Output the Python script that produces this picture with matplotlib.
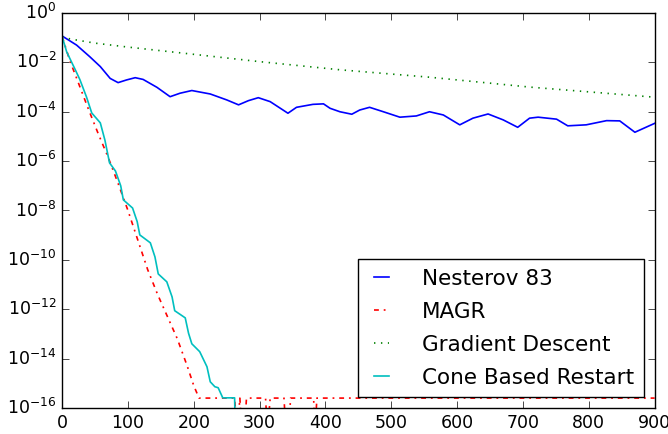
import numpy as np
import matplotlib
matplotlib.use("Agg")
from matplotlib import pyplot as plt

plt.style.use("classic")

# values are stored as -log10(error)
nest_x = [0, 22, 42, 58, 73, 85, 98, 111, 123, 144, 164, 179, 197, 225, 250, 268, 283,
          298, 316, 343, 356, 381, 397, 407, 422, 440, 452, 467, 488, 513, 538, 558, 579,
          604, 624, 647, 670, 692, 710, 723, 751, 768, 796, 827, 847, 870, 900]
nest_d = [0.93, 1.30, 1.77, 2.17, 2.65, 2.82, 2.71, 2.62, 2.69, 3.01, 3.39, 3.25, 3.14,
          3.28, 3.52, 3.72, 3.55, 3.43, 3.59, 4.06, 3.82, 3.70, 3.68, 3.86, 4.0, 4.10,
          3.93, 3.82, 4.0, 4.22, 4.17, 4.0, 4.13, 4.53, 4.26, 4.09, 4.33, 4.63, 4.26, 4.22,
          4.30, 4.57, 4.53, 4.36, 4.37, 4.83, 4.47]

magr_x = [0, 12, 25, 40, 55, 70, 85, 100, 115, 130, 145, 160, 175, 190, 200, 208, 262,
          266, 270, 273, 277, 280, 309, 312, 316, 337, 340, 344, 347, 382, 384, 387, 900]
magr_d = [0.95, 1.95, 2.85, 3.9, 4.9, 5.85, 6.9, 8.0, 9.2, 10.4, 11.4, 12.3, 13.2, 14.3,
          15.1, 15.6, 15.6, 17, 15.6, 17, 17, 15.6, 15.6, 17, 15.6, 15.6, 17, 17, 15.6,
          15.6, 17, 15.6, 15.6]

gd_x = [0, 12, 50, 100, 209, 300, 422, 558, 710, 900]
gd_d = [0.95, 1.05, 1.22, 1.38, 1.7, 1.97, 2.3, 2.6, 3.0, 3.41]

cone_x = [0, 7, 20, 27, 37, 45, 58, 65, 72, 81, 89, 93, 107, 114, 118, 134, 141, 146,
          159, 167, 171, 187, 192, 197, 209, 220, 225, 232, 237, 244, 260, 262, 264, 900]
cone_d = [0.95, 1.58, 2.3, 2.7, 3.4, 4.05, 4.45, 5.15, 6.07, 6.4, 7.0, 7.57, 7.9, 8.45,
          8.99, 9.31, 9.88, 10.57, 10.89, 11.5, 12.06, 12.35, 12.97, 13.4, 13.72, 14.33,
          14.94, 15.14, 15.18, 15.59, 15.59, 15.59, 18, 18]

labels = ["Nesterov 83", "MAGR", "Gradient Descent", "Cone Based Restart"]
x_ticks = [0, 100, 200, 300, 400, 500, 600, 700, 800, 900]
y_exps = [0, -2, -4, -6, -8, -10, -12, -14, -16]

fig = plt.figure(figsize=(6.68, 4.34), dpi=100, facecolor="white")
ax = fig.add_axes([0.093, 0.06, 0.887, 0.91])

ax.plot(nest_x, 10.0 ** -np.array(nest_d), color="b", lw=1.2, label=labels[0])
ax.plot(magr_x, 10.0 ** -np.array(magr_d), color="r", lw=1.2, dashes=(3.5, 3.5, 1.3, 3.5),
        label=labels[1])
ax.plot(gd_x, 10.0 ** -np.array(gd_d), color="g", lw=1.2, dashes=(1, 4), label=labels[2])
ax.plot(cone_x, 10.0 ** -np.array(cone_d), color="c", lw=1.2, label=labels[3])

ax.set_yscale("log")
ax.set_xlim(0, 900)
ax.set_ylim(1e-16, 1)
ax.set_xticks(x_ticks)
ax.set_xticklabels([str(t) for t in x_ticks], fontsize=12.5)
ax.set_yticks([10.0 ** e for e in y_exps])
ax.set_yticklabels([r"$\mathdefault{10^{%d}}$" % e for e in y_exps], fontsize=12.5)
ax.minorticks_off()
ax.tick_params(which="major", length=5)

leg = ax.legend(loc="lower right", fontsize=15.5, handlelength=1.3, handletextpad=1.22,
                labelspacing=0.6, borderpad=0.45, borderaxespad=0.5, fancybox=False)
leg.get_frame().set_edgecolor("black")

fig.savefig("out.png", dpi=100, facecolor="white")
